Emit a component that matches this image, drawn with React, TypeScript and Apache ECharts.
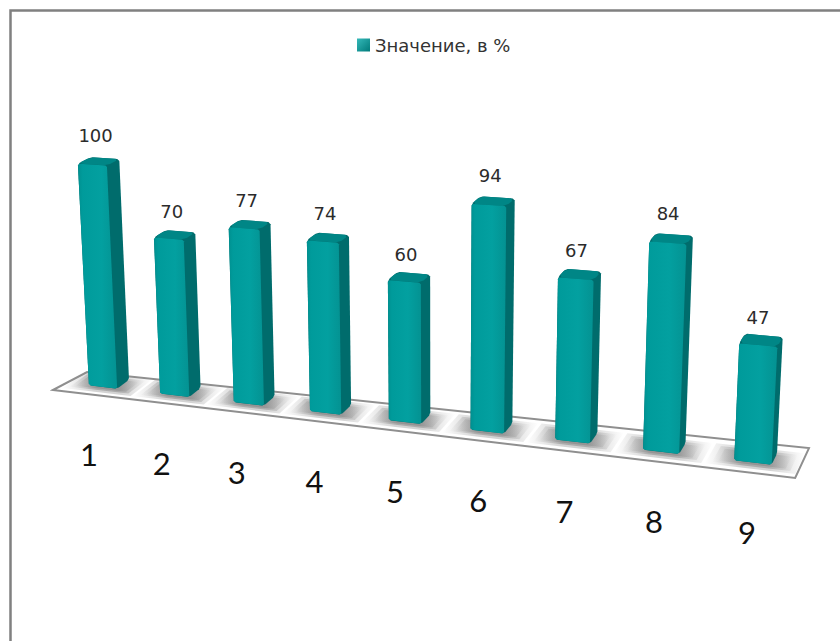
import React, { useEffect, useRef } from "react";
import * as echarts from "echarts";

const categories = ["1", "2", "3", "4", "5", "6", "7", "8", "9"];
const values = [100, 70, 77, 74, 60, 94, 67, 84, 47];
const seriesName = "Значение, в %";

const GRID = { left: 100, top: 100, width: 600, height: 100 };
const HALF_WIDTH = 0.025;
const FONT = "'DejaVu Sans', sans-serif";

// Perspective camera: t runs along the floor, h is the value, z the depth of a bar.
function project(t: number, h: number, z: number): number[] {
  const w = 1 - 0.132 * t - 0.000308 * h + 0.0111 * z;
  const x = 103 + 550.5 * t - 0.135 * h + 13.25 * z;
  const y = 387 + 14.4 * t - 2.275 * h - 4.5 * z;
  return [x / w, y / w];
}

// Converts a pixel position on the hidden grid back to camera space.
function toCamera(p: number[]): { t: number; h: number } {
  return {
    t: (p[0] - GRID.left) / GRID.width,
    h: ((GRID.top + GRID.height - p[1]) / GRID.height) * 100,
  };
}

// Cuts each corner of a polygon to soften its outline.
function chamfer(points: number[][], r: number): number[][] {
  const out: number[][] = [];
  points.forEach((p, i) => {
    const prev = points[(i + points.length - 1) % points.length];
    const next = points[(i + 1) % points.length];
    [prev, next].forEach((q) => {
      const d = Math.hypot(q[0] - p[0], q[1] - p[1]) || 1;
      const k = Math.min(r, d / 2) / d;
      out.push([p[0] + (q[0] - p[0]) * k, p[1] + (q[1] - p[1]) * k]);
    });
  });
  return out;
}

const horizontal = (stops: [number, string][]) =>
  new echarts.graphic.LinearGradient(
    0,
    0,
    1,
    0,
    stops.map(([offset, color]) => ({ offset, color })),
  );

// A soft pool of shade on the floor, wider than the bar standing in it.
function shade(t: number, halfWidth: number, back: number, front: number, alpha: number) {
  return {
    type: "polygon",
    shape: {
      points: [
        project(t - halfWidth, 0, back),
        project(t + halfWidth, 0, back),
        project(t + halfWidth, 0, front),
        project(t - halfWidth, 0, front),
      ],
    },
    style: {
      fill: horizontal([
        [0, `rgba(130,130,130,0)`],
        [0.35, `rgba(130,130,130,${alpha})`],
        [0.65, `rgba(130,130,130,${alpha})`],
        [1, `rgba(130,130,130,0)`],
      ]),
    },
  };
}

function renderFloor(_: any, api: any) {
  const i = api.value(0);
  const { t } = toCamera(api.coord([i, 0]));
  const children: any[] = [];
  if (i === 0) {
    const corners = [
      project(-0.0701, 0, -0.863),
      project(1.062, 0, -0.89),
      project(1.0624, 0, 1.8),
      project(-0.0572, 0, 1.317),
    ];
    children.push({
      type: "polygon",
      shape: { points: corners },
      style: { fill: "#ffffff", stroke: "#8f8f8f", lineWidth: 2 },
    });
  }
  children.push(shade(t, 0.06, 1.3, -0.55, 0.35));
  children.push(shade(t, 0.052, 1.1, -0.35, 0.5));
  children.push(shade(t, 0.045, 0.9, -0.2, 0.55));
  return { type: "group", children };
}

function renderBar(_: any, api: any) {
  const i = api.value(0);
  const v = api.value(1);
  const { t, h } = toCamera(api.coord([i, v]));
  const l = t - HALF_WIDTH;
  const r = t + HALF_WIDTH;

  const fbl = project(l, 0, 0);
  const fbr = project(r, 0, 0);
  const bbr = project(r, 0, 1);
  const ftl = project(l, h, 0);
  const ftr = project(r, h, 0);
  const btr = project(r, h, 1);
  const btl = project(l, h, 1);

  const labelTop = project(t, h, 0.5);
  const base = project(t, 0, 0);

  return {
    type: "group",
    children: [
      {
        // Whole outline first, so the softened corners of the faces leave no gaps.
        type: "polygon",
        shape: { points: chamfer([fbl, fbr, bbr, btr, btl, ftl], 2) },
        style: { fill: "#006c6c" },
      },
      {
        type: "polygon",
        shape: { points: chamfer([ftl, ftr, btr, btl], 3.5) },
        style: { fill: "#008686" },
      },
      {
        type: "polygon",
        shape: { points: chamfer([ftl, ftr, fbr, fbl], 1.5) },
        style: {
          fill: horizontal([
            [0, "#009090"],
            [0.12, "#009b9b"],
            [0.6, "#03a0a0"],
            [1, "#049292"],
          ]),
        },
      },
      {
        type: "text",
        style: {
          text: String(values[i]),
          x: labelTop[0] - 3,
          y: labelTop[1] - 19 - 0.07 * h,
          align: "center",
          verticalAlign: "middle",
          fontSize: 18,
          fontFamily: FONT,
          fill: "#2b2b2b",
        },
      },
      {
        type: "text",
        style: {
          text: categories[i],
          x: base[0] - 14 + 8 * t,
          y: base[1] + 67 + 3 * t,
          align: "center",
          verticalAlign: "middle",
          fontSize: 31,
          fontFamily: "Lato, sans-serif",
          fill: "#111111",
        },
      },
    ],
  };
}

export default function App() {
  const ref = useRef<HTMLDivElement>(null);

  useEffect(() => {
    document.body.style.margin = "0";
    const chart = echarts.init(ref.current!, null, { renderer: "svg" });
    const points = values.map((v, i) => [i, v]);
    chart.setOption({
      animation: false,
      backgroundColor: "#ffffff",
      grid: GRID,
      xAxis: { type: "category", data: categories, boundaryGap: false, show: false },
      yAxis: { type: "value", min: 0, max: 100, show: false },
      legend: {
        data: [{ name: seriesName, icon: "rect" }],
        left: 352,
        top: 31,
        itemWidth: 13,
        itemHeight: 13,
        itemGap: 6,
        textStyle: { fontSize: 18, fontFamily: FONT, color: "#333333" },
      },
      graphic: [
        {
          type: "polyline",
          silent: true,
          shape: { points: [[10.5, 641], [10.5, 10.5], [840, 10.5]] },
          style: { stroke: "#808080", lineWidth: 2.5, fill: "none" },
        },
      ],
      series: [
        {
          name: "floor",
          type: "custom",
          silent: true,
          renderItem: renderFloor,
          data: points,
          encode: { x: 0, y: 1 },
        },
        {
          name: seriesName,
          type: "custom",
          silent: true,
          renderItem: renderBar,
          data: points,
          encode: { x: 0, y: 1 },
          itemStyle: {
            color: new echarts.graphic.LinearGradient(0, 0, 1, 1, [
              { offset: 0, color: "#35b9b9" },
              { offset: 1, color: "#007a7a" },
            ]),
          },
        },
      ],
    });
    return () => chart.dispose();
  }, []);

  return <div ref={ref} style={{ position: "absolute", left: 0, top: 0, width: 840, height: 641 }} />;
}
